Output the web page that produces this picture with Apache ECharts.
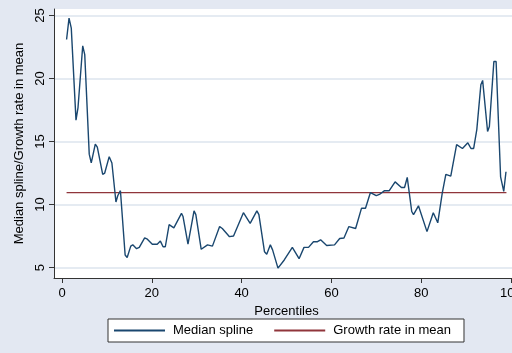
<!DOCTYPE html>
<html>
<head>
<meta charset="utf-8">
<script src="https://cdn.jsdelivr.net/npm/echarts@6/dist/echarts.min.js"></script>
<style>
  html, body { margin: 0; padding: 0; background: #E3E8F2; }
  #chart { width: 512px; height: 353px; }
</style>
</head>
<body>
<div id="chart"></div>
<script>
// Median spline vertices: percentile and value
const splinePct = [
  1.0, 1.55, 2.05, 3.1, 3.55, 4.6, 5.05, 6.05, 6.5, 7.4, 7.85, 9.05, 9.5, 10.5, 11.1,
  12.0, 12.4, 13.0, 14.05, 14.5, 15.3, 15.75, 16.6, 17.2, 18.4, 19.0, 20.1, 21.2, 21.9,
  22.5, 23.0, 23.85, 24.9, 26.6, 26.95, 28.05, 29.4, 29.8, 31.0, 31.2, 32.4, 33.5, 35.1,
  35.7, 37.3, 38.2, 40.4, 41.9, 43.4, 43.85, 45.1, 45.6, 46.4, 46.9, 48.1, 48.45, 49.5,
  51.3, 51.7, 52.8, 53.9, 54.9, 56.0, 56.9, 57.6, 58.95, 60.7, 61.85, 62.8, 63.9, 65.4,
  66.7, 67.6, 68.7, 69.1, 70.0, 70.7, 71.85, 72.9, 74.2, 75.6, 76.3, 76.9, 77.9, 78.3,
  79.4, 79.8, 81.3, 82.7, 83.0, 83.7, 84.7, 85.5, 86.6, 87.9, 88.3, 89.2, 90.4, 91.1,
  91.7, 92.4, 93.3, 93.7, 94.8, 95.2, 96.2, 96.7, 97.7, 98.4, 98.9
];
const splineVal = [
  23.1, 24.8, 24.0, 16.7, 17.7, 22.6, 21.9, 14.0, 13.3, 14.8, 14.55, 12.4, 12.5, 13.8, 13.3,
  10.2, 10.7, 11.1, 6.0, 5.8, 6.7, 6.8, 6.5, 6.6, 7.35, 7.25, 6.85, 6.85, 7.1,
  6.65, 6.65, 8.4, 8.15, 9.3, 9.05, 6.85, 9.5, 9.2, 6.45, 6.4, 6.8, 6.7, 8.25,
  8.1, 7.45, 7.5, 9.35, 8.5, 9.5, 9.2, 6.25, 6.05, 6.8, 6.4, 4.95, 4.8, 5.6,
  6.6, 6.5, 5.7, 6.6, 6.6, 7.05, 7.05, 7.2, 6.75, 6.8, 7.3, 7.35, 8.25, 8.1,
  9.7, 9.7, 10.95, 10.95, 10.7, 10.8, 11.1, 11.1, 11.8, 11.35, 11.35, 12.15, 9.45, 9.2,
  9.9, 9.8, 7.85, 9.35, 9.2, 8.55, 10.9, 12.4, 12.25, 14.75, 14.9, 14.45, 14.9, 14.45,
  14.45, 15.95, 19.5, 19.85, 15.8, 16.2, 21.35, 21.35, 12.2, 11.05, 12.6
];

// Growth rate in mean: constant across percentiles
const growthPct = [1, 99];
const growthVal = [10.95, 10.95];

const xTicks = [0, 20, 40, 60, 80, 100];
const yTicks = [5, 10, 15, 20, 25];

const FONT = '"Liberation Sans", Arial, sans-serif';
const AXIS_COLOR = '#333333';

const chart = echarts.init(document.getElementById('chart'), null, { renderer: 'canvas' });

chart.setOption({
  backgroundColor: '#E3E8F2',
  animation: false,
  textStyle: { fontFamily: FONT },
  grid: {
    left: 54, top: 9, right: -7, bottom: 75,
    outerBoundsMode: 'none',
    containLabel: false,
    show: true, backgroundColor: '#FFFFFF', borderWidth: 0
  },
  xAxis: {
    type: 'value',
    min: -1.8, max: 101.8,
    name: 'Percentiles',
    nameLocation: 'middle',
    nameGap: 18,
    nameTextStyle: { fontSize: 13, color: '#000', fontFamily: FONT },
    axisLine: { show: true, onZero: false, lineStyle: { color: AXIS_COLOR, width: 1 } },
    axisTick: { show: true, length: 5, customValues: xTicks, lineStyle: { color: AXIS_COLOR } },
    axisLabel: { customValues: xTicks, fontSize: 13, color: '#000', margin: 9, fontFamily: FONT },
    splitLine: { show: false }
  },
  yAxis: {
    type: 'value',
    min: 4.17, max: 25.52,
    name: 'Median spline/Growth rate in mean',
    nameLocation: 'middle',
    nameGap: 14,
    nameRotate: 90,
    nameTextStyle: { fontSize: 13, color: '#000', fontFamily: FONT },
    axisLine: { show: true, onZero: false, lineStyle: { color: AXIS_COLOR, width: 1 } },
    axisTick: { show: true, length: 5, customValues: yTicks, lineStyle: { color: AXIS_COLOR } },
    axisLabel: { customValues: yTicks, rotate: 90, fontSize: 13, color: '#000', margin: 7, fontFamily: FONT },
    splitLine: { show: true, lineStyle: { color: '#DDE4EE', width: 1.5 } }
  },
  legend: {
    left: 108, top: 319,
    orient: 'horizontal',
    backgroundColor: '#FFFFFF',
    borderColor: '#333333',
    borderWidth: 1,
    borderRadius: 0,
    padding: [5, 13, 5, 6],
    itemWidth: 51,
    itemHeight: 2,
    itemGap: 21,
    icon: 'rect',
    textStyle: { fontSize: 13, color: '#000', fontFamily: FONT, padding: [0, 0, 0, 3] },
    data: ['Median spline', 'Growth rate in mean']
  },
  series: [
    {
      name: 'Median spline',
      type: 'line',
      data: splinePct.map((p, i) => [p, splineVal[i]]),
      symbol: 'none',
      smooth: false,
      lineStyle: { color: '#1A476F', width: 1.4 },
      itemStyle: { color: '#1A476F' },
      z: 3
    },
    {
      name: 'Growth rate in mean',
      type: 'line',
      data: growthPct.map((p, i) => [p, growthVal[i]]),
      symbol: 'none',
      lineStyle: { color: '#90353B', width: 1.4 },
      itemStyle: { color: '#90353B' },
      z: 2
    }
  ]
});
</script>
</body>
</html>
